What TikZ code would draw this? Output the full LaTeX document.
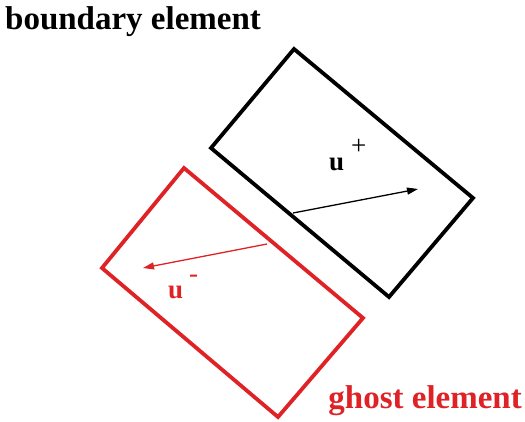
\documentclass[tikz,border=0pt]{standalone}
\usepackage{fontspec}
\setmainfont{Liberation Serif}
\usetikzlibrary{arrows.meta}
\definecolor{ghostred}{RGB}{222,34,38}
\tikzset{
  elem/.style={line width=3.8pt, line join=miter},
  vec/.style={line width=1.3pt, -{Triangle[length=11pt,width=7pt]}},
  lbl/.style={font=\bfseries, inner sep=0pt},
}
\begin{document}
\begin{tikzpicture}[x=1pt,y=-1pt]
\useasboundingbox (0,0) rectangle (525,421);
% boundary element
\coordinate (b1) at (294,49);
\coordinate (b2) at (473,198);
\coordinate (b3) at (389,297);
\coordinate (b4) at (211,148);
\draw[elem] (b1) -- (b2) -- (b3) -- (b4) -- cycle;
% ghost element
\coordinate (g1) at (184,168);
\coordinate (g2) at (363,318);
\coordinate (g3) at (278,417);
\coordinate (g4) at (102,268);
\draw[elem, ghostred] (g1) -- (g2) -- (g3) -- (g4) -- cycle;
% vectors
\coordinate (ps) at (293,213);
\coordinate (pe) at (418,189);
\draw[vec] (ps) -- (pe);
\coordinate (ms) at (267,244);
\coordinate (me) at (143,268);
\draw[vec, ghostred] (ms) -- (me);
% labels
\node[lbl, anchor=base west, font=\fontsize{33}{36}\selectfont\bfseries] (tb) at (5,29) {boundary element};
\node[lbl, anchor=base east, font=\fontsize{33}{36}\selectfont\bfseries, text=ghostred] (tg) at (522,408) {ghost element};
\node[lbl, anchor=base west, font=\fontsize{27}{30}\selectfont\bfseries] (up) at (329,170) {u\kern7pt\raisebox{16pt}{\mdseries+}};
\node[lbl, anchor=base west, font=\fontsize{27}{30}\selectfont\bfseries, text=ghostred] (um) at (168,298) {u\kern6pt\raisebox{16pt}{\mdseries -}};
\end{tikzpicture}
\end{document}
